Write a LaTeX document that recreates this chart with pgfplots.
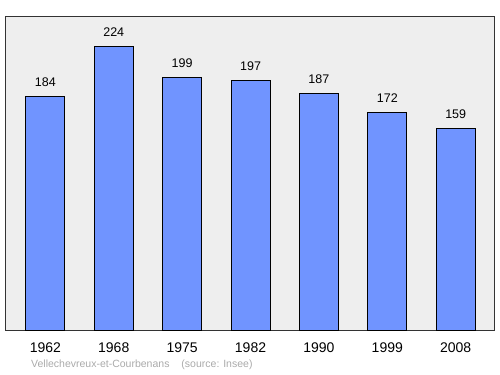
\documentclass[border=0pt]{standalone}
\usepackage{pgfplots}
\pgfplotsset{compat=1.18}
\usepackage{fontspec}
\setmainfont{Liberation Sans}
\definecolor{bgc}{RGB}{238,238,238}
\definecolor{barc}{RGB}{112,148,255}
\definecolor{srcc}{RGB}{170,170,170}
\begin{document}
\begin{tikzpicture}[x=1bp,y=1bp]
\useasboundingbox (-5,-44) rectangle (495,330);
\begin{axis}[
  at={(0,0)}, anchor=south west,
  scale only axis, width=489bp, height=313bp,
  xmin=-0.59, xmax=6.56, ymin=0, ymax=247,
  axis background/.style={fill=bgc},
  axis line style={black!80, line width=1pt},
  ytick=\empty,
  xtick={0,1,2,3,4,5,6},
  xticklabels={1962,1968,1975,1982,1990,1999,2008},
  xtick style={draw=none},
  xticklabel style={font=\fontsize{14bp}{16bp}\selectfont, yshift=-5bp},
  /pgf/number format/assume math mode=true,
  ybar, bar width=0.57,
  nodes near coords,
  nodes near coords style={font=\fontsize{12.5bp}{14bp}\selectfont, black, yshift=6bp},
]
\addplot[fill=barc, draw=black, line width=0.8pt] coordinates {
(0,184) (1,224) (2,199) (3,197) (4,187) (5,172) (6,159)};
\end{axis}
\node[anchor=west, text=srcc, font=\fontsize{10.5bp}{12bp}\selectfont, inner sep=0] at (26,-35) {Vellechevreux-et-Courbenans\hspace{12bp}(source: Insee)};
\end{tikzpicture}
\end{document}
